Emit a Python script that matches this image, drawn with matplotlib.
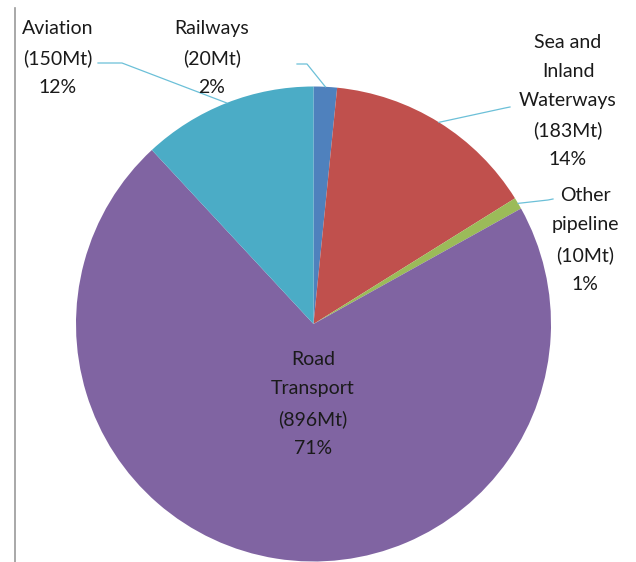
import matplotlib.pyplot as plt
import numpy as np

# CO2 emissions by transport mode
modes = ["Railways", "Sea and\nInland\nWaterways", "Other\npipeline", "Road\nTransport", "Aviation"]
emissions_mt = [20, 183, 10, 896, 150]
shares = ["2%", "14%", "1%", "71%", "12%"]
colors = ["#4F81BD", "#C0504D", "#9BBB59", "#8064A2", "#4BACC6"]

W, H = 636, 562
fig = plt.figure(figsize=(W / 100, H / 100), dpi=100)
ax = fig.add_axes([0, 0, 1, 1])

cx, cy, r = 313.5, H - 324, 237.5
wedges, _ = ax.pie(emissions_mt, colors=colors, startangle=90, counterclock=False,
                   center=(cx, cy), radius=r, wedgeprops=dict(linewidth=0))
ax.set_xlim(0, W)
ax.set_ylim(0, H)
ax.set_aspect("equal")
ax.axis("off")

# label block centres (x, y from top) and leader elbow points
label_pos = [(212, 58), (568, 101), (585, 240), (313, 404), (58, 58)]
elbows = [[(297, 64), (307, 64)], [(510, 107), (505, 108)], [(553, 199), (548, 200)],
          None, [(98, 63), (122, 63)]]

for w, name, mt, pct, (lx, ly), elbow in zip(wedges, modes, emissions_mt, shares, label_pos, elbows):
    txt = f"{name}\n({mt}Mt)\n{pct}"
    ax.text(lx, H - ly, txt, ha="center", va="center", fontsize=14, family="Lato",
            color="#1a1a1a", linespacing=1.85, zorder=5)
    if elbow is None:
        continue
    mid = np.deg2rad((w.theta1 + w.theta2) / 2)
    ex, ey = cx + r * np.cos(mid), cy + r * np.sin(mid)
    xs = [p[0] for p in elbow] + [ex]
    ys = [H - p[1] for p in elbow] + [ey]
    ax.plot(xs, ys, color="#6CC0D8", linewidth=0.9, zorder=4)

# page margin rule at the left
ax.plot([14.5, 14.5], [0, H - 8], color="#9a9a9a", linewidth=1.2)

fig.savefig("out.png", dpi=100)
